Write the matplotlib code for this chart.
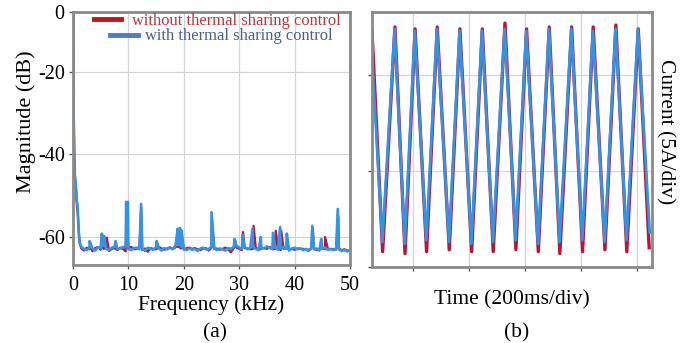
import numpy as np
import matplotlib.pyplot as plt
from matplotlib.lines import Line2D

plt.rcParams['font.family'] = ['Liberation Serif', 'DejaVu Serif']

# ---- (a) spectrum data, kHz / dB ----
floor_freq = [1.5 + 0.5 * k for k in range(98)]
floor_with = [
    -62.4, -62.9, -63.2, -62.6, -62.8, -63.3, -62.5, -62.7, -62.2, -62.9,
    -63.1, -62.6, -62.4, -63.0, -62.8, -62.5, -62.3, -62.9, -63.2, -62.7,
    -62.6, -63.0, -62.8, -63.4, -62.6, -62.9, -63.1, -62.5, -62.8, -63.3,
    -62.7, -63.0, -62.6, -62.9, -62.2, -61.9, -62.4, -62.9, -63.2, -62.8,
    -63.1, -62.9, -63.4, -62.8, -62.6, -63.0, -62.9, -62.4, -62.7, -63.2,
    -62.8, -63.0, -63.3, -62.7, -62.9, -62.5, -62.1, -62.6, -62.9, -62.4,
    -63.0, -62.7, -62.5, -62.9, -63.2, -62.6, -62.8, -62.3, -62.7, -62.9,
    -62.6, -63.1, -62.8, -62.4, -62.9, -63.3, -62.8, -62.6, -63.0, -62.7,
    -63.2, -62.9, -63.4, -62.7, -63.0, -62.8, -63.3, -62.9, -62.6, -63.1,
    -62.9, -63.2, -62.8, -63.0, -63.4, -63.1, -63.5, -63.2,
]
floor_without = [
    -62.8, -63.3, -62.6, -63.0, -63.5, -62.7, -62.4, -63.1, -62.9, -62.6,
    -63.4, -62.9, -62.7, -63.2, -62.6, -62.9, -63.5, -62.8, -62.4, -63.0,
    -62.9, -62.5, -63.2, -62.8, -63.6, -62.7, -62.9, -63.0, -62.4, -62.8,
    -63.1, -62.8, -62.5, -63.0, -62.5, -62.3, -62.8, -63.1, -62.7, -62.6,
    -62.9, -62.7, -63.0, -63.2, -62.8, -62.7, -63.3, -62.6, -62.9, -62.8,
    -63.1, -62.9, -62.6, -63.0, -63.7, -62.8, -62.6, -62.9, -63.2, -62.7,
    -62.8, -63.0, -62.9, -62.6, -63.1, -62.8, -62.7, -62.9, -62.4, -63.0,
    -62.9, -62.7, -63.2, -62.9, -62.6, -63.0, -62.9, -63.1, -62.8, -62.9,
    -62.9, -63.0, -63.1, -62.9, -62.8, -63.2, -62.9, -62.7, -63.0, -62.8,
    -63.0, -62.9, -63.1, -62.8, -63.2, -63.0, -63.3, -63.4,
]

# low-frequency roll-off from the DC component
lf_freq_with = [0.0, 0.1, 0.3, 0.5, 0.6, 0.8, 1.0, 1.2]
lf_mag_with = [0.0, -30.0, -45.0, -47.0, -51.0, -52.0, -58.0, -61.5]
lf_freq_without = [0.0, 0.2, 0.4, 0.6, 0.7, 0.9, 1.1, 1.3]
lf_mag_without = [0.0, -38.0, -47.0, -49.0, -52.5, -55.0, -60.0, -62.0]

# harmonic spikes
spk_freq_with = [3.0, 5.2, 5.6, 7.7, 9.6, 9.75, 9.9, 12.3, 15.1, 18.9, 19.3, 19.6,
                 25.0, 29.2, 30.6, 32.4, 33.9, 36.1, 37.4, 38.6, 43.2, 44.8, 47.8]
spk_mag_with = [-61.0, -59.2, -59.8, -61.0, -51.5, -58.0, -51.5, -52.0, -61.0, -58.0, -57.8, -58.5,
                -54.0, -60.5, -59.5, -58.0, -60.0, -59.0, -57.6, -59.2, -57.3, -60.5, -53.2]
spk_freq_without = [3.1, 5.3, 6.1, 9.7, 12.3, 19.5, 25.1, 29.3, 30.7, 32.6, 36.6, 37.6, 43.3, 45.5, 47.9]
spk_mag_without = [-61.5, -59.5, -60.2, -55.0, -53.0, -58.3, -56.0, -61.0, -58.8, -57.3, -58.5,
                   -58.5, -58.0, -60.0, -55.0]

# ---- (b) phase current, ms / A (alternating peaks and troughs) ----
t_without = [0, 38, 82, 118, 154, 195, 233, 276, 314, 356, 394, 433, 475, 514,
             552, 594, 633, 671, 713, 752, 790, 832, 871, 910, 951, 990]
i_without = [7.3, -4.2, 7.5, -4.3, 7.4, -4.2, 7.5, -4.1, 7.4, -4.2, 7.4, -4.2, 7.7, -4.1,
             7.4, -4.2, 7.5, -4.3, 7.5, -4.2, 7.5, -4.1, 7.6, -4.2, 7.4, -4.0]
t_with = [0, 37, 81, 117, 153, 194, 232, 275, 313, 355, 393, 432, 474, 513,
          551, 593, 632, 670, 712, 751, 789, 831, 870, 909, 950, 992]
i_with = [6.0, -3.7, 7.4, -3.8, 7.3, -3.6, 7.4, -3.7, 7.3, -3.8, 7.3, -3.7, 7.4, -3.6,
          7.3, -3.8, 7.4, -3.7, 7.4, -3.6, 7.3, -3.7, 7.4, -3.6, 7.4, -3.2]


def merge(*pairs):
    f = np.concatenate([np.asarray(p[0], float) for p in pairs])
    m = np.concatenate([np.asarray(p[1], float) for p in pairs])
    order = np.argsort(f, kind='stable')
    return f[order], m[order]


RED = '#b3183a'
BLUE = '#3594e2'
FRAME = '#8a8a8a'
GRID = '#d4d4d4'

fig = plt.figure(figsize=(6.9, 3.43), dpi=100)
ax1 = fig.add_axes([0.1058, 0.2274, 0.4014, 0.7376])
ax2 = fig.add_axes([0.5391, 0.2216, 0.4058, 0.7434])

for ax in (ax1, ax2):
    for s in ax.spines.values():
        s.set_color(FRAME)
        s.set_linewidth(2.0)
    ax.grid(True, color=GRID, lw=0.9)
    ax.set_axisbelow(True)
    ax.tick_params(length=3, width=1, color='#555555', labelsize=14.5, pad=3)

# (a)
f_wo, m_wo = merge((lf_freq_without, lf_mag_without), (floor_freq, floor_without),
                   (spk_freq_without, spk_mag_without))
f_w, m_w = merge((lf_freq_with, lf_mag_with), (floor_freq, floor_with),
                 (spk_freq_with, spk_mag_with))
ax1.plot(f_wo, m_wo, color=RED, lw=1.6)
ax1.plot(f_w, m_w, color=BLUE, lw=1.9)

y_top = -5.5
ax1.set_xlim(0, 50)
ax1.set_ylim(-66.8, y_top)
ax1.set_xticks([0, 10, 20, 30, 40, 50])
ax1.set_yticks([-60, -40, -20, y_top])
ax1.set_yticklabels(['-60', '-40', '-20', '0'])
ax1.tick_params(axis='x', pad=5)
ax1.set_xlabel('Frequency (kHz)', fontsize=15.5, labelpad=0)
ax1.set_ylabel('Magnitude (dB)', fontsize=16)
ax1.yaxis.set_label_coords(-0.135, 0.565)

leg1 = ax1.legend([Line2D([], [], color='#c0141c', lw=3.5)], ['without thermal sharing control'],
                  loc='upper left', bbox_to_anchor=(0.076, 0.995), frameon=False,
                  borderpad=0, borderaxespad=0, handlelength=1.65, handletextpad=0.65,
                  fontsize=11.9, labelcolor='#b83a3a')
ax1.add_artist(leg1)
ax1.legend([Line2D([], [], color='#4a7fc0', lw=3.5)], ['with thermal sharing control'],
           loc='upper left', bbox_to_anchor=(0.134, 0.935), frameon=False,
           borderpad=0, borderaxespad=0, handlelength=1.7, handletextpad=0.4,
           fontsize=11.9, labelcolor='#46608e')

fig.text(0.312, 0.03, '(a)', fontsize=15.5, ha='center', va='center')

# (b)
ax2.plot(t_without, i_without, color=RED, lw=2.4)
ax2.plot(t_with, i_with, color=BLUE, lw=2.0)
ax2.set_xlim(0, 1000)
ax2.set_ylim(-5, 8.28)
ax2.set_xticks([146, 346, 546, 746, 946])
ax2.set_yticks([-5, 0, 5])
ax2.set_xticklabels([])
ax2.set_yticklabels([])
ax2.set_xlabel('Time (200ms/div)', fontsize=15.5, labelpad=11)

fig.text(0.964, 0.615, 'Current (5A/div)', fontsize=15.5, rotation=270,
         ha='center', va='center')
fig.text(0.749, 0.03, '(b)', fontsize=15.5, ha='center', va='center')

fig.savefig('out.png', dpi=100)
